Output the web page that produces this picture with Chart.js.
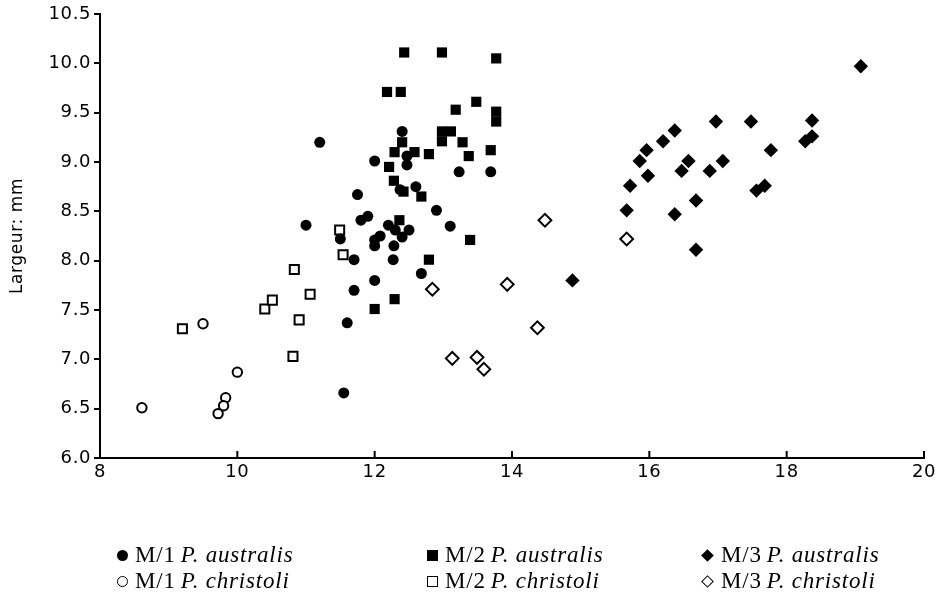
<!DOCTYPE html>
<html><head><meta charset="utf-8">
<script src="https://cdn.jsdelivr.net/npm/chart.js@4"></script>
<style>
html,body{margin:0;padding:0;background:#fff;}
#wrap{position:relative;width:944px;height:598px;}
#legend{position:absolute;left:0;top:0;width:944px;height:598px;pointer-events:none;}
.item{position:absolute;display:flex;align-items:center;font-family:"Liberation Serif","Times New Roman",serif;font-size:23px;letter-spacing:0.8px;color:#000;white-space:pre;transform:translateY(-50%);}
.item i{font-style:italic;}
.mk{display:inline-block;box-sizing:border-box;margin-right:7px;}
</style>
</head><body>
<div id="wrap">
<canvas id="c" width="944" height="598"></canvas>
<div id="legend"></div>
</div>
<script>
// ---- data ----
const xTicks = [8, 10, 12, 14, 16, 18, 20];
const yTicks = [6.0, 6.5, 7.0, 7.5, 8.0, 8.5, 9.0, 9.5, 10.0, 10.5];
const toothLabels = ['M/1', 'M/2', 'M/3'];
const speciesLabels = ['P. australis', 'P. christoli'];

const m1Australis = [[11.2,9.2],[11.0,8.36],[11.5,8.22],[11.75,8.67],[11.8,8.41],[11.9,8.45],[12.0,9.01],[12.0,8.21],[12.08,8.25],[12.0,8.15],[12.2,8.36],[12.3,8.31],[12.5,8.31],[12.4,8.24],[12.28,8.15],[11.7,8.01],[12.27,8.01],[12.9,8.51],[13.1,8.35],[12.68,7.87],[12.0,7.8],[11.7,7.7],[11.6,7.37],[11.55,6.66],[12.4,9.31],[12.47,9.06],[12.47,8.97],[12.6,8.75],[12.37,8.72],[13.23,8.9],[13.69,8.9]];
const m2Australis = [[12.43,10.11],[12.98,10.11],[13.77,10.05],[12.18,9.71],[12.38,9.71],[13.18,9.53],[13.48,9.61],[13.77,9.51],[13.77,9.41],[12.98,9.31],[13.11,9.31],[12.98,9.21],[13.28,9.2],[13.69,9.12],[13.37,9.06],[12.79,9.08],[12.29,9.1],[12.58,9.1],[12.4,9.2],[12.21,8.95],[12.28,8.81],[12.42,8.7],[12.68,8.65],[12.36,8.41],[13.39,8.21],[12.79,8.01],[12.29,7.61],[12.0,7.51]];
const m3Australis = [[19.08,9.97],[16.97,9.41],[17.48,9.41],[18.37,9.42],[16.37,9.32],[16.2,9.21],[15.96,9.12],[15.86,9.01],[18.37,9.26],[18.27,9.21],[17.77,9.12],[16.57,9.01],[17.07,9.01],[16.47,8.91],[16.88,8.91],[15.98,8.86],[15.72,8.76],[17.68,8.76],[17.56,8.71],[16.68,8.61],[15.67,8.51],[16.37,8.47],[16.68,8.11],[14.88,7.8]];
const m1Christoli = [[8.61,6.51],[9.5,7.36],[10.0,6.87],[9.83,6.61],[9.8,6.53],[9.72,6.45]];
const m2Christoli = [[9.2,7.31],[10.4,7.51],[10.51,7.6],[10.83,7.91],[11.06,7.66],[10.9,7.4],[10.81,7.03],[11.49,8.31],[11.54,8.06]];
const m3Christoli = [[14.48,8.41],[15.67,8.22],[12.84,7.71],[13.93,7.76],[14.37,7.32],[13.13,7.01],[13.49,7.02],[13.59,6.9]];

const pts = a => a.map(p => ({x: p[0], y: p[1]}));
const styles = ['circle', 'rect', 'rectRot'];
const radii = [5.5, 7.2, 7.2];
const series = [
  [m1Australis, 0, true], [m2Australis, 1, true], [m3Australis, 2, true],
  [m1Christoli, 0, false], [m2Christoli, 1, false], [m3Christoli, 2, false]
];
const datasets = series.map(([d, t, filled]) => ({
  label: toothLabels[t] + ' ' + speciesLabels[filled ? 0 : 1],
  data: pts(d),
  pointStyle: styles[t],
  pointRadius: filled ? radii[t] : radii[t] - 0.8,
  pointHoverRadius: radii[t],
  backgroundColor: filled ? '#000' : '#fff',
  borderColor: '#000',
  borderWidth: filled ? 0 : 2,
  order: filled ? 1 : 2
}));

const spacing = {
  id: 'spacing',
  beforeLayout(c) { c.ctx.letterSpacing = '0.6px'; },
  beforeDraw(c) { c.ctx.letterSpacing = '0.6px'; }
};
const innerTicks = {
  id: 'innerTicks',
  afterDraw(c) {
    const s = c.scales.x, ctx = c.ctx, b = c.chartArea.bottom;
    ctx.save();
    ctx.strokeStyle = '#000'; ctx.lineWidth = 2;
    xTicks.forEach(v => {
      const px = s.getPixelForValue(v);
      ctx.beginPath(); ctx.moveTo(px, b); ctx.lineTo(px, b - 7); ctx.stroke();
    });
    ctx.restore();
  }
};

new Chart(document.getElementById('c'), {
  type: 'scatter',
  data: { datasets },
  options: {
    responsive: false,
    animation: false,
    devicePixelRatio: 1,
    layout: { padding: { top: 14, right: 20, bottom: 100, left: 0 } },
    plugins: { legend: { display: false }, tooltip: { enabled: false } },
    scales: {
      x: {
        type: 'linear', min: 8, max: 20,
        afterBuildTicks: s => { s.ticks = xTicks.map(v => ({value: v})); },
        afterFit: s => { s.height = 40; },
        grid: { display: true, drawOnChartArea: false, drawTicks: false, color: '#000' },
        border: { display: true, color: '#000', width: 2 },
        ticks: { color: '#000', padding: 4, font: { family: 'DejaVu Sans', size: 18 } }
      },
      y: {
        type: 'linear', min: 6, max: 10.5,
        afterBuildTicks: s => { s.ticks = yTicks.map(v => ({value: v})); },
        afterFit: s => { s.width = 100; },
        grid: { display: true, drawOnChartArea: false, drawTicks: true, tickLength: 6, color: '#000', lineWidth: 2 },
        border: { display: true, color: '#000', width: 2 },
        ticks: { color: '#000', padding: 3, font: { family: 'DejaVu Sans', size: 18 }, callback: v => Number(v).toFixed(1) },
        title: { display: true, text: 'Largeur: mm', color: '#000', padding: { top: 7, bottom: 0 }, font: { family: 'DejaVu Sans', size: 17 } }
      }
    }
  },
  plugins: [spacing, innerTicks]
});

// ---- HTML legend ----
const colX = [123, 433, 707];
const rowY = [555, 581];
const leg = document.getElementById('legend');
series.forEach(([d, t, filled], i) => {
  const div = document.createElement('div');
  div.className = 'item';
  div.style.left = (colX[t] - 6) + 'px';
  div.style.top = rowY[filled ? 0 : 1] + 'px';
  const mk = document.createElement('span');
  mk.className = 'mk';
  const sz = t === 2 ? 9 : 11;
  mk.style.width = sz + 'px'; mk.style.height = sz + 'px';
  if (filled) mk.style.background = '#000';
  else { mk.style.border = '1.5px solid #000'; mk.style.background = '#fff'; }
  if (t === 0) mk.style.borderRadius = '50%';
  if (t === 2) { mk.style.transform = 'rotate(45deg)'; mk.style.marginLeft = '2px'; mk.style.marginRight = '9px'; }
  div.appendChild(mk);
  const tooth = document.createElement('span');
  tooth.textContent = toothLabels[t];
  tooth.style.marginRight = '5px';
  div.appendChild(tooth);
  const it = document.createElement('i');
  it.textContent = speciesLabels[filled ? 0 : 1];
  div.appendChild(it);
  leg.appendChild(div);
});
</script>
</body></html>
